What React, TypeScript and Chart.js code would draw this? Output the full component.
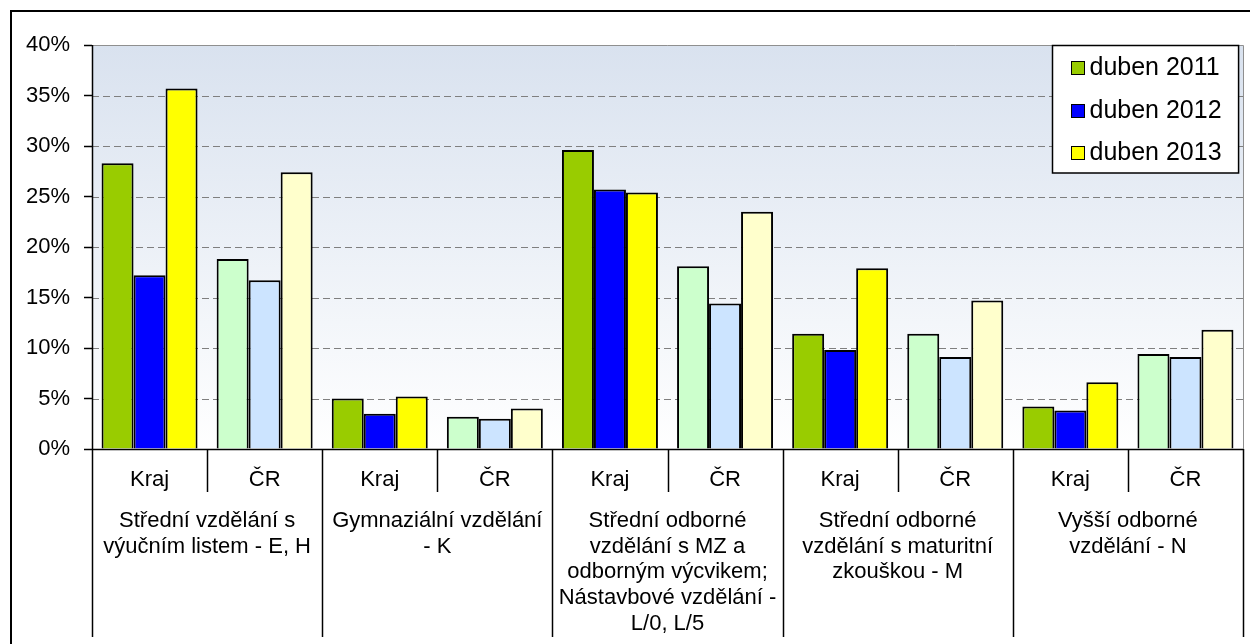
import React, { useEffect, useRef } from 'react';
import { Chart, registerables } from 'chart.js';

Chart.register(...registerables);

const subCategories = ['Kraj', 'ČR', 'Kraj', 'ČR', 'Kraj', 'ČR', 'Kraj', 'ČR', 'Kraj', 'ČR'];
const groupLabels = [
  ['Střední vzdělání s', 'výučním listem - E, H'],
  ['Gymnaziální vzdělání', '- K'],
  ['Střední odborné', 'vzdělání s MZ a', 'odborným výcvikem;', 'Nástavbové vzdělání -', 'L/0, L/5'],
  ['Střední odborné', 'vzdělání s maturitní', 'zkouškou - M'],
  ['Vyšší odborné', 'vzdělání - N'],
];
const seriesNames = ['duben 2011', 'duben 2012', 'duben 2013'];
const values2011 = [28.3, 18.8, 5.0, 3.2, 29.6, 18.1, 11.4, 11.4, 4.2, 9.4];
const values2012 = [17.2, 16.7, 3.5, 3.0, 25.7, 14.4, 9.8, 9.1, 3.8, 9.1];
const values2013 = [35.7, 27.4, 5.2, 4.0, 25.4, 23.5, 17.9, 14.7, 6.6, 11.8];
const yMin = 0;
const yMax = 40;
const yStep = 5;

const krajColors = ['#99cc00', '#0000ff', '#ffff00'];
const crColors = ['#ccffcc', '#cce4ff', '#ffffcc'];

const FONT = "'Liberation Sans', Arial, sans-serif";

const decorPlugin = {
  id: 'decor',
  beforeDraw(chart: any) {
    const { ctx, chartArea: a } = chart;
    ctx.save();
    const g = ctx.createLinearGradient(0, a.top, 0, a.bottom);
    g.addColorStop(0, '#d9e2ef');
    g.addColorStop(1, '#ffffff');
    ctx.fillStyle = g;
    ctx.fillRect(a.left, a.top, a.right - a.left, a.bottom - a.top);
    ctx.strokeStyle = '#000';
    ctx.lineWidth = 2;
    ctx.strokeRect(11, 11, chart.width + 40, chart.height + 40);
    ctx.restore();
  },
  beforeDatasetsDraw(chart: any) {
    const { ctx, chartArea: a } = chart;
    const y = chart.scales.y;
    ctx.save();
    ctx.strokeStyle = '#7f7f7f';
    ctx.lineWidth = 1;
    ctx.setLineDash([7, 4]);
    y.ticks.forEach((t: any) => {
      if (t.value <= y.min || t.value >= y.max) return;
      const py = Math.round(y.getPixelForValue(t.value)) + 0.5;
      ctx.beginPath();
      ctx.moveTo(a.left, py);
      ctx.lineTo(a.right, py);
      ctx.stroke();
    });
    ctx.setLineDash([]);
    ctx.strokeStyle = '#8f8f8f';
    ctx.beginPath();
    ctx.moveTo(a.left, Math.round(a.top) + 0.5);
    ctx.lineTo(Math.round(a.right) + 0.5, Math.round(a.top) + 0.5);
    ctx.lineTo(Math.round(a.right) + 0.5, a.bottom);
    ctx.stroke();
    ctx.restore();
  },
  afterDatasetsDraw(chart: any) {
    const { ctx, chartArea: a } = chart;
    const x = chart.scales.x;
    const x2 = chart.scales.x2;
    ctx.save();
    ctx.strokeStyle = '#000';
    ctx.lineWidth = 1.5;
    const lx = Math.round(a.left) + 0.5;
    ctx.beginPath();
    ctx.moveTo(lx, a.top);
    ctx.lineTo(lx, a.bottom);
    ctx.stroke();
    const by = Math.round(a.bottom) + 0.5;
    ctx.beginPath();
    ctx.moveTo(a.left, by);
    ctx.lineTo(a.right, by);
    ctx.stroke();
    const n = subCategories.length;
    const perGroup = n / groupLabels.length;
    for (let k = 0; k <= n; k++) {
      const px = Math.round(x.getPixelForValue(k - 0.5)) + 0.5;
      const end = k % perGroup === 0 ? x2.bottom : x.bottom;
      ctx.beginPath();
      ctx.moveTo(px, a.bottom);
      ctx.lineTo(px, end);
      ctx.stroke();
    }
    ctx.restore();
  },
  afterDraw(chart: any) {
    const { ctx, chartArea: a } = chart;
    const ds = chart.data.datasets;
    ctx.save();
    ctx.font = `25px ${FONT}`;
    let maxW = 0;
    ds.forEach((d: any) => { maxW = Math.max(maxW, ctx.measureText(d.label).width); });
    const sw = 13;
    const padL = 18;
    const gap = 6;
    const padR = 17;
    const rowH = 42.5;
    const boxW = padL + sw + gap + maxW + padR;
    const boxH = rowH * ds.length;
    const bx = Math.round(a.right - 5 - boxW) + 0.5;
    const byy = Math.round(a.top) + 0.5;
    ctx.fillStyle = '#fff';
    ctx.fillRect(bx, byy, boxW, boxH);
    ctx.strokeStyle = '#000';
    ctx.lineWidth = 1.5;
    ctx.strokeRect(bx, byy, boxW, boxH);
    ds.forEach((d: any, i: number) => {
      const cy = byy + 22 + i * rowH;
      const sx = Math.round(bx + padL) + 0.5;
      const sy = Math.round(cy - sw / 2) + 0.5;
      ctx.fillStyle = krajColors[i];
      ctx.fillRect(sx, sy, sw, sw);
      ctx.lineWidth = 1;
      ctx.strokeStyle = '#000';
      ctx.strokeRect(sx, sy, sw, sw);
      ctx.fillStyle = '#000';
      ctx.textBaseline = 'middle';
      ctx.textAlign = 'left';
      ctx.fillText(d.label, bx + padL + sw + gap, cy + 1);
    });
    ctx.restore();
  },
};

export default function App() {
  const ref = useRef<HTMLCanvasElement | null>(null);
  useEffect(() => {
    if (!ref.current) return;
    const seriesValues = [values2011, values2012, values2013];
    const chart = new Chart(ref.current, {
      type: 'bar',
      data: {
        labels: subCategories,
        datasets: seriesNames.map((name, i) => ({
          label: name,
          data: seriesValues[i],
          backgroundColor: subCategories.map((c) => (c === 'Kraj' ? krajColors[i] : crColors[i])),
          borderColor: '#000',
          borderWidth: 2,
          categoryPercentage: 0.834,
          barPercentage: 1,
        })),
      },
      options: {
        responsive: false,
        animation: false,
        devicePixelRatio: 1,
        events: [],
        layout: { padding: { left: 0, right: 7, top: 45, bottom: 7 } },
        plugins: { legend: { display: false }, tooltip: { enabled: false }, title: { display: false } },
        scales: {
          x: {
            type: 'category',
            position: 'bottom',
            offset: true,
            grid: { display: false },
            border: { display: false },
            ticks: {
              color: '#000',
              font: { family: FONT, size: 22 },
              padding: 10,
              autoSkip: false,
              maxRotation: 0,
              minRotation: 0,
            },
            afterFit(scale: any) {
              scale.height = 43;
              scale.paddingLeft = 0;
              scale.paddingRight = 0;
            },
          },
          x2: {
            type: 'category',
            position: 'bottom',
            labels: groupLabels as any,
            offset: true,
            grid: { display: false },
            border: { display: false },
            ticks: {
              color: '#000',
              font: { family: FONT, size: 22, lineHeight: 1.17 },
              padding: 8,
              autoSkip: false,
              maxRotation: 0,
              minRotation: 0,
            },
            afterFit(scale: any) {
              scale.height = 145;
              scale.paddingLeft = 0;
              scale.paddingRight = 0;
            },
          },
          y: {
            type: 'linear',
            position: 'left',
            min: yMin,
            max: yMax,
            grid: {
              display: true,
              drawOnChartArea: false,
              drawTicks: true,
              tickLength: 8,
              tickColor: '#000',
              tickWidth: 1.5,
            },
            border: { display: false },
            ticks: {
              stepSize: yStep,
              color: '#000',
              font: { family: FONT, size: 22 },
              padding: 14,
              callback: (v: any) => `${v}%`,
            },
            afterFit(scale: any) {
              scale.width = 92;
              scale.paddingTop = 0;
              scale.paddingBottom = 0;
            },
          },
        },
      } as any,
      plugins: [decorPlugin],
    });
    return () => chart.destroy();
  }, []);
  return (
    <div style={{ position: 'absolute', left: 0, top: 0, width: 1250, height: 644, background: '#fff' }}>
      <canvas ref={ref} width={1250} height={644} style={{ display: 'block' }} />
    </div>
  );
}
